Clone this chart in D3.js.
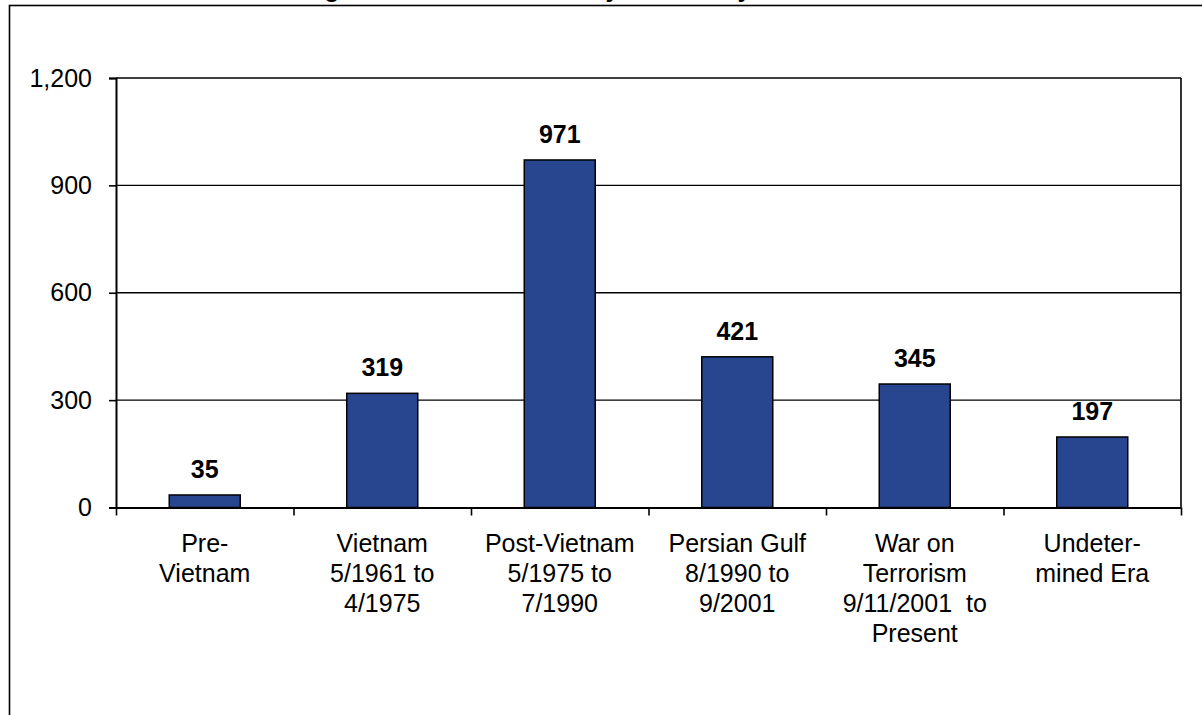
<!DOCTYPE html>
<html>
<head>
<meta charset="utf-8">
<script src="https://cdn.jsdelivr.net/npm/d3@7/dist/d3.min.js"></script>
<style>
  html, body { margin: 0; padding: 0; background: #fff; }
  svg { display: block; }
  text { font-family: "Liberation Sans", Arial, sans-serif; fill: #000; }
</style>
</head>
<body>
<svg id="chart" width="1202" height="715"></svg>
<script>
// ---- data ----
const titleText = "Figure 5: Veterans' Military Service by Era";
const categories = ["Pre-Vietnam", "Vietnam", "Post-Vietnam", "Persian Gulf", "War on Terrorism", "Undetermined Era"];
const categoryLines = [
  ["Pre-", "Vietnam"],
  ["Vietnam", "5/1961 to", "4/1975"],
  ["Post-Vietnam", "5/1975 to", "7/1990"],
  ["Persian Gulf", "8/1990 to", "9/2001"],
  ["War on", "Terrorism", "9/11/2001\u00a0 to", "Present"],
  ["Undeter-", "mined Era"]
];
const values = [35, 319, 971, 421, 345, 197];
const yTicks = [0, 300, 600, 900, 1200];

// ---- layout ----
const svg = d3.select("#chart");
const plot = { left: 116, right: 1181, top: 78, bottom: 507.5 };
const barColor = "#28458f";

// chart outer border (extends beyond the viewport on right/bottom)
svg.append("rect")
  .attr("x", 9.5).attr("y", 5.5)
  .attr("width", 1300).attr("height", 800)
  .attr("fill", "none").attr("stroke", "#000").attr("stroke-width", 1.6);

// title (mostly cut off above the viewport)
const title = svg.append("text")
  .attr("y", -3)
  .attr("font-size", 25)
  .attr("font-weight", "bold")
  .text(titleText);
{
  const gi = titleText.indexOf("g");
  const node = title.node();
  const gStart = node.getSubStringLength(0, gi);
  const gW = node.getSubStringLength(gi, 1);
  title.attr("x", 332 - gStart - gW / 2);
}

const x = d3.scaleBand()
  .domain(categories)
  .range([plot.left, plot.right])
  .paddingInner(0.6)
  .paddingOuter(0.3);

const xb = d3.scaleLinear().domain([0, categories.length]).range([plot.left, plot.right]);

const y = d3.scaleLinear().domain([0, 1200]).range([plot.bottom, plot.top]);

// gridlines
svg.append("g")
  .selectAll("line")
  .data(yTicks.filter(d => d > 0))
  .join("line")
  .attr("x1", plot.left).attr("x2", plot.right)
  .attr("y1", d => y(d)).attr("y2", d => y(d))
  .attr("stroke", "#000").attr("stroke-width", 1.3);

// right border of plot area
svg.append("line")
  .attr("x1", plot.right).attr("x2", plot.right)
  .attr("y1", plot.top).attr("y2", plot.bottom)
  .attr("stroke", "#000").attr("stroke-width", 1.6);

// bars
svg.append("g")
  .selectAll("rect")
  .data(values)
  .join("rect")
  .attr("x", (d, i) => x(categories[i]))
  .attr("width", x.bandwidth())
  .attr("y", d => y(d))
  .attr("height", d => y(0) - y(d))
  .attr("fill", barColor)
  .attr("stroke", "#000")
  .attr("stroke-width", 1.5);

// value labels
svg.append("g")
  .selectAll("text")
  .data(values)
  .join("text")
  .attr("x", (d, i) => x(categories[i]) + x.bandwidth() / 2)
  .attr("y", d => y(d) - 17)
  .attr("text-anchor", "middle")
  .attr("font-size", 25)
  .attr("font-weight", "bold")
  .text(d => d3.format(",")(d));

// y axis
const yAxis = svg.append("g")
  .attr("transform", `translate(${plot.left},0)`)
  .call(d3.axisLeft(y).tickValues(yTicks).tickSize(7).tickPadding(17).tickFormat(d3.format(",")));
yAxis.select(".domain").attr("stroke", "#000").attr("stroke-width", 2);
yAxis.selectAll(".tick line").attr("stroke", "#000").attr("stroke-width", 1.6);
yAxis.selectAll(".tick text")
  .attr("font-size", 25)
  .attr("font-family", "'Liberation Sans', Arial, sans-serif")
  .attr("fill", "#000");

// x axis (tick marks at category boundaries)
const xAxis = svg.append("g")
  .attr("transform", `translate(0,${plot.bottom})`)
  .call(d3.axisBottom(xb).tickValues(d3.range(categories.length + 1)).tickSize(8).tickSizeOuter(0).tickFormat(""));
xAxis.select(".domain").attr("stroke", "#000").attr("stroke-width", 2.2);
xAxis.selectAll(".tick line").attr("stroke", "#000").attr("stroke-width", 1.6);

// category labels
const catG = svg.append("g");
categoryLines.forEach((lines, i) => {
  const t = catG.append("text")
    .attr("text-anchor", "middle")
    .attr("font-size", 25);
  lines.forEach((ln, j) => {
    t.append("tspan")
      .attr("x", x(categories[i]) + x.bandwidth() / 2)
      .attr("y", 551.5 + j * 30)
      .text(ln);
  });
});
</script>
</body>
</html>
